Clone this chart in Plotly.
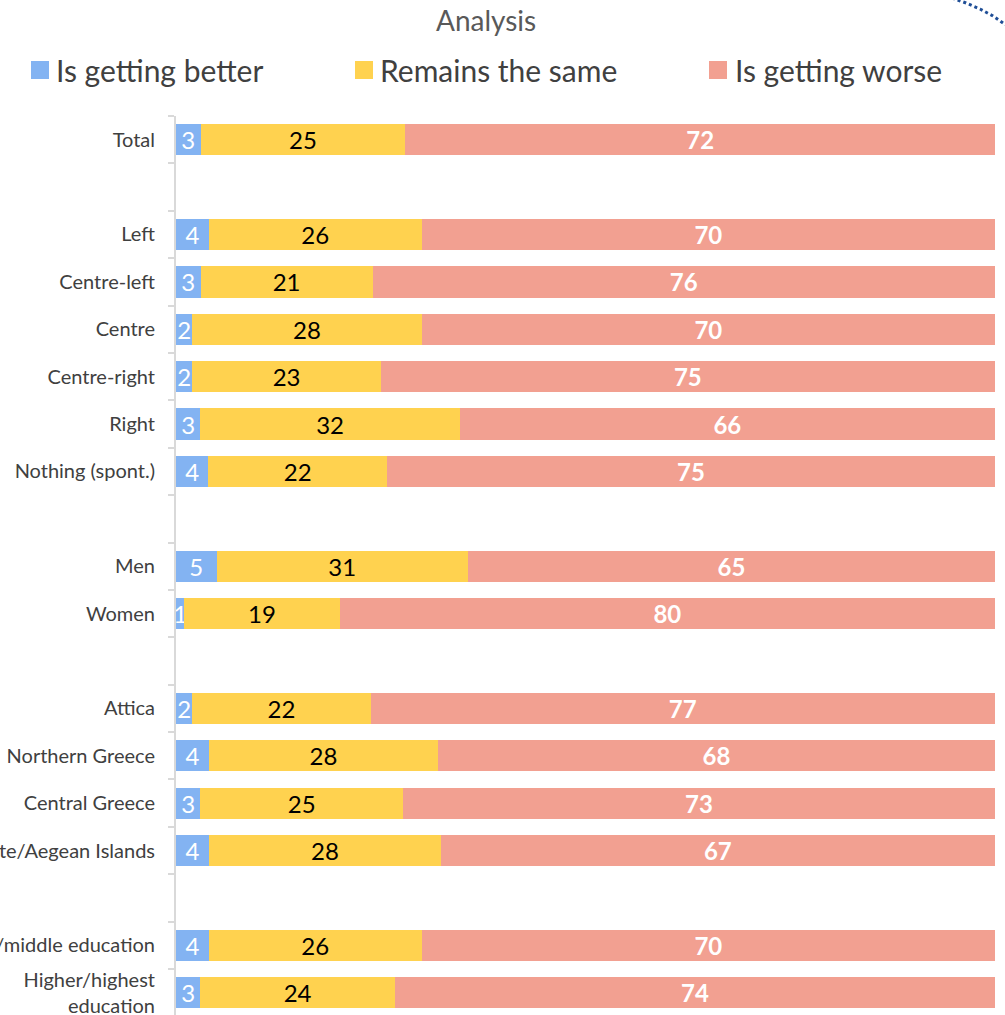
import plotly.graph_objects as go

# Survey groups, top to bottom; blank entries are spacer rows between groups
categories = [
    "Total", " ",
    "Left", "Centre-left", "Centre", "Centre-right", "Right", "Nothing (spont.)", "  ",
    "Men", "Women", "   ",
    "Attica", "Northern Greece", "Central Greece", "Crete/Aegean Islands", "    ",
    "Lower/middle education", "Higher/highest<br>education",
]
better = [3, None, 4, 3, 2, 2, 3, 4, None, 5, 1, None, 2, 4, 3, 4, None, 4, 3]
same = [25, None, 26, 21, 28, 23, 32, 22, None, 31, 19, None, 22, 28, 25, 28, None, 26, 24]
worse = [72, None, 70, 76, 70, 75, 66, 75, None, 65, 80, None, 77, 68, 73, 67, None, 70, 74]

series_names = ["Is getting better", "Remains the same", "Is getting worse"]
colors = ["#83B3F2", "#FFD24F", "#F2A091"]
text_colors = ["white", "black", "white"]
text_weights = ["normal", "normal", "bold"]

FONT = "Lato"
W, H = 1005, 1015
M_L, M_R, M_T, M_B = 176, 10, 116, 0

fig = go.Figure()
for name, vals, col, tcol, tw in zip(series_names, [better, same, worse],
                                     colors, text_colors, text_weights):
    fig.add_trace(go.Bar(
        y=categories, x=vals, name=name, orientation="h",
        marker=dict(color=col, line=dict(width=0)),
        text=[("" if v is None else str(v)) for v in vals],
        textposition="inside", insidetextanchor="middle", textangle=0,
        textfont=dict(color=tcol, size=24, family=FONT, weight=tw),
        hoverinfo="skip", showlegend=False,
    ))

fig.update_layout(
    width=W, height=H,
    margin=dict(l=M_L, r=M_R, t=M_T, b=M_B, autoexpand=False),
    barmode="stack", barnorm="percent", bargap=0.34,
    plot_bgcolor="white", paper_bgcolor="white",
    uniformtext=dict(minsize=24, mode="show"),
    font=dict(family=FONT, color="#595959"),
)
fig.update_xaxes(range=[0, 100], visible=False, showgrid=False, zeroline=False)
fig.update_yaxes(
    type="category", categoryorder="array", categoryarray=categories,
    range=[18.47, -0.5], autorange=False, automargin=False,
    showline=True, linecolor="#D9D9D9", linewidth=2,
    ticks="outside", tickson="boundaries", ticklen=6, tickcolor="#D9D9D9", tickwidth=2,
    tickfont=dict(size=20, color="#404040", family=FONT),
    ticklabelstandoff=15, showgrid=False, zeroline=False,
)


def px_x(px):
    return (px - M_L) / (W - M_L - M_R)


def px_y(py):
    return (H - M_B - py) / (H - M_T - M_B)


# Title
fig.add_annotation(text="Analysis", xref="paper", yref="paper",
                   x=px_x(486), y=px_y(20), showarrow=False,
                   xanchor="center", yanchor="middle",
                   font=dict(size=28, color="#595959", family=FONT))

# Legend row
legend_pos = [(31, 54), (355, 378), (709, 733)]
for (sq_x, tx_x), name, col in zip(legend_pos, series_names, colors):
    fig.add_shape(type="rect", xref="paper", yref="paper",
                  x0=px_x(sq_x), x1=px_x(sq_x + 18), y0=px_y(79), y1=px_y(61),
                  fillcolor=col, line=dict(width=0))
    fig.add_annotation(text=name, xref="paper", yref="paper",
                       x=px_x(tx_x), y=px_y(70), showarrow=False,
                       xanchor="left", yanchor="middle",
                       font=dict(size=30, color="#404040", family=FONT))

# Decorative dotted arc in the top-right corner
arc = [(952, -2), (966, 3), (980, 9), (993, 16), (1006, 25)]
path = "M " + " L ".join(f"{px_x(a)},{px_y(b)}" for a, b in arc)
fig.add_shape(type="path", xref="paper", yref="paper", path=path,
              line=dict(color="#1F4E96", width=3, dash="dot"))

fig.write_html("out.html")
